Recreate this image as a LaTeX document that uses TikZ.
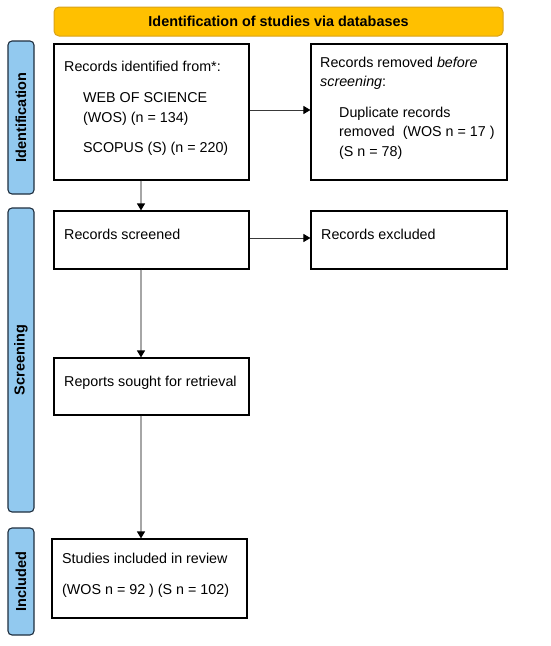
\documentclass[tikz,border=0pt]{standalone}
\usepackage{fontspec}
\setmainfont{Liberation Sans}
\usetikzlibrary{arrows.meta}
\definecolor{banner}{HTML}{FFC000}
\definecolor{bannerdraw}{HTML}{D9A21A}
\definecolor{side}{HTML}{92C9EF}
\definecolor{sidedraw}{HTML}{1F2F3F}
\tikzset{
  box/.style={draw=black, line width=1.1pt, fill=white, inner sep=0pt, anchor=center},
  sidebox/.style={draw=sidedraw, line width=1.1pt, fill=side, rounded corners=4pt, minimum height=26pt, inner sep=0pt, rotate=90, font=\fontsize{14.5}{17}\selectfont\bfseries},
  txt/.style={anchor=base west, inner sep=0pt, font=\fontsize{14.3}{17}\selectfont},
  varrow/.style={draw=gray!70, line width=1.2pt, -{Triangle[width=8pt,length=7pt,color=black]}},
  harrow/.style={draw=gray!45!black, line width=1pt, -{Triangle[width=8pt,length=7pt,color=black]}}
}
\begin{document}
\begin{tikzpicture}[x=1pt,y=-1pt]
\useasboundingbox (0,0) rectangle (550,646);
\fill[white] (0,0) rectangle (550,646);
% banner
\node[draw=bannerdraw, line width=1pt, fill=banner, rounded corners=5pt, minimum width=449pt, minimum height=29pt, inner sep=0pt, font=\fontsize{14.4}{17}\selectfont\bfseries] (banner) at (278.5,21.5) {Identification of studies via databases};
% side labels
\node[sidebox, minimum width=153pt] (sideI) at (21,117.5) {Identification};
\node[sidebox, minimum width=304pt] (sideS) at (21,360) {Screening};
\node[sidebox, minimum width=107pt] (sideC) at (21,581.5) {Included};
% boxes
\node[box, minimum width=195pt, minimum height=136pt] (b1) at (151.5,112) {};
\node[box, minimum width=196pt, minimum height=136pt] (b2) at (409,112) {};
\node[box, minimum width=195pt, minimum height=58pt] (b3) at (151.5,240) {};
\node[box, minimum width=196pt, minimum height=58pt] (b4) at (409,240) {};
\node[box, minimum width=195pt, minimum height=57pt] (b5) at (151.5,386.5) {};
\node[box, minimum width=195pt, minimum height=79pt] (b6) at (149.5,578.5) {};
% texts
\node[txt] (t1a) at (64,71) {Records identified from*:};
\node[txt] (t1b) at (83,102) {WEB OF SCIENCE};
\node[txt] (t1c) at (83,122.5) {(WOS) (n = 134)};
\node[txt] (t1d) at (83,152) {SCOPUS (S) (n = 220)};
\node[txt] (t2a) at (320,67.5) {Records removed \textit{before}};
\node[txt] (t2b) at (320,86.5) {\textit{screening}:};
\node[txt] (t2c) at (339,117.5) {Duplicate records};
\node[txt] (t2d) at (339,136) {removed\ \ (WOS n = 17 )};
\node[txt] (t2e) at (339,156) {(S n = 78)};
\node[txt] (t3) at (64,239.5) {Records screened};
\node[txt] (t4) at (321,239.5) {Records excluded};
\node[txt] (t5) at (64,386) {Reports sought for retrieval};
\node[txt] (t6a) at (62,563) {Studies included in review};
\node[txt] (t6b) at (62,594.5) {(WOS n = 92 ) (S n = 102)};
% connectors
\draw[harrow] ([yshift=2pt]b1.east) -- ([yshift=2pt]b2.west);
\draw[harrow] ([yshift=2pt]b3.east) -- ([yshift=2pt]b4.west);
\draw[varrow] ([xshift=-10.5pt]b1.south) -- ([xshift=-10.5pt]b3.north);
\draw[varrow] ([xshift=-10.5pt]b3.south) -- ([xshift=-10.5pt]b5.north);
\draw[varrow] ([xshift=-10.5pt]b5.south) -- ([xshift=-8.5pt]b6.north);
\end{tikzpicture}
\end{document}
